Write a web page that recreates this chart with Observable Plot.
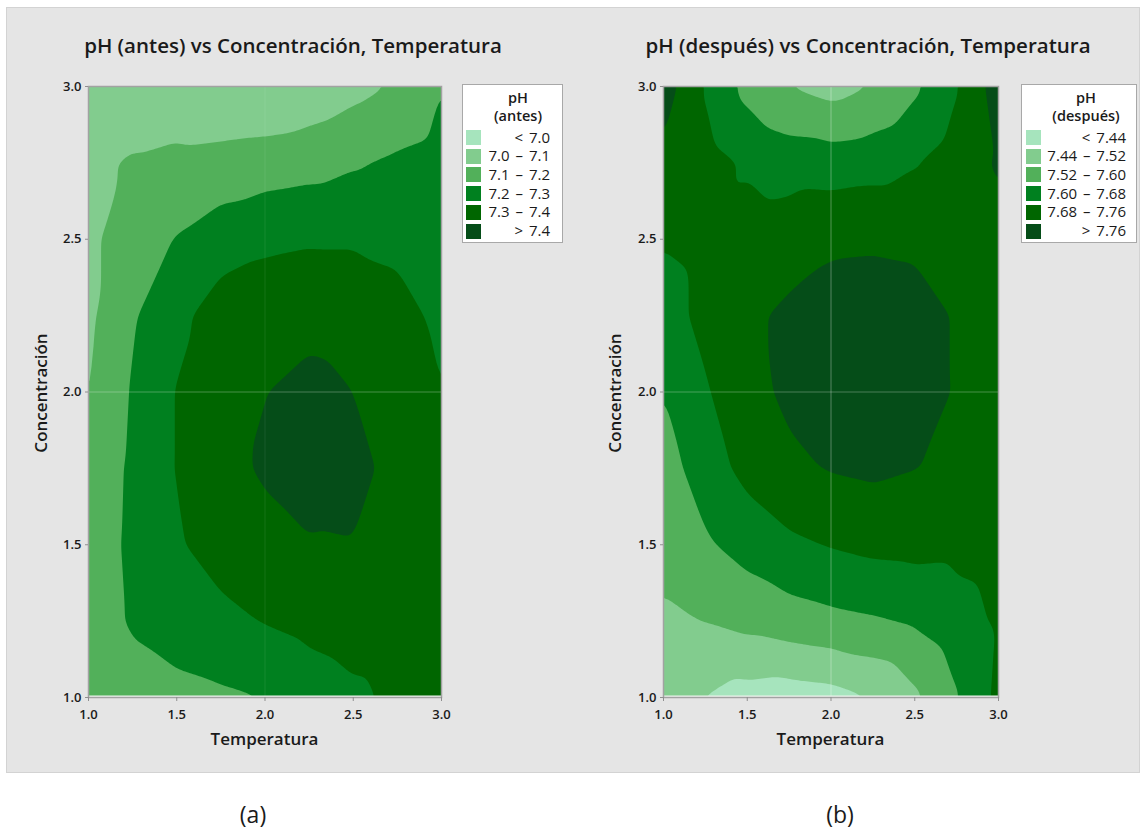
<!DOCTYPE html>
<html>
<head>
<meta charset="utf-8">
<script src="https://cdn.jsdelivr.net/npm/d3@7"></script>
<script src="https://cdn.jsdelivr.net/npm/@observablehq/plot@0.6"></script>
<style>
  html, body { margin: 0; padding: 0; background: #ffffff; }
  #root { position: relative; width: 1146px; height: 836px; overflow: hidden; font-family: "Open Sans", "Noto Sans", sans-serif; color: #1a1a1a; }
  .panel { position: absolute; left: 6px; top: 7px; width: 1134px; height: 766px; box-sizing: border-box; background: #e5e5e5; border: 1px solid #d3d3d3; }
  .plotwrap { position: absolute; top: 0; }
  .txt { position: absolute; white-space: nowrap; line-height: 1; }
  .title { font-size: 20.5px; font-weight: 600; transform: translateX(-50%); }
  .xlab { font-size: 17px; font-weight: 600; transform: translateX(-50%); }
  .ylab { font-size: 17px; font-weight: 600; transform: translate(-50%, -50%) rotate(-90deg); }
  .cap { font-size: 23px; font-weight: 400; transform: translateX(-50%); }
  .legend { position: absolute; box-sizing: border-box; background: #ffffff; border: 1px solid #a8a8a8; }
  .lt { font-size: 14.5px; font-weight: 600; transform: translateX(-50%); }
  .ll { font-size: 15px; font-weight: 400; transform: translateX(-100%); word-spacing: 2px; }
  .sw { position: absolute; width: 15px; height: 15px; }
</style>
</head>
<body>
<div id="root"></div>
<script>
// ---------- data ----------
const temperatura = [1.0, 1.25, 1.5, 1.75, 2.0, 2.25, 2.5, 2.75, 3.0];
const concentracion = [1.0, 1.25, 1.5, 1.75, 2.0, 2.25, 2.5, 2.75, 3.0];

// pH (antes): rows = concentracion (1.0 -> 3.0), columns = temperatura (1.0 -> 3.0)
const phAntes = [
  [7.120, 7.150, 7.170, 7.185, 7.200, 7.245, 7.280, 7.320, 7.340],
  [7.130, 7.215, 7.250, 7.275, 7.305, 7.330, 7.350, 7.350, 7.340],
  [7.130, 7.225, 7.290, 7.340, 7.370, 7.395, 7.398, 7.370, 7.340],
  [7.120, 7.220, 7.305, 7.370, 7.412, 7.435, 7.420, 7.380, 7.330],
  [7.092, 7.210, 7.305, 7.370, 7.398, 7.425, 7.400, 7.360, 7.300],
  [7.080, 7.190, 7.270, 7.353, 7.360, 7.375, 7.365, 7.330, 7.280],
  [7.080, 7.150, 7.205, 7.250, 7.280, 7.290, 7.290, 7.280, 7.270],
  [7.080, 7.110, 7.130, 7.141, 7.152, 7.165, 7.190, 7.217, 7.240],
  [7.060, 7.040, 7.020, 6.995, 7.001, 7.030, 7.070, 7.110, 7.200]
];

// pH (después)
const phDespues = [
  [7.455, 7.438, 7.410, 7.400, 7.410, 7.441, 7.505, 7.595, 7.700],
  [7.510, 7.522, 7.545, 7.565, 7.580, 7.592, 7.610, 7.650, 7.690],
  [7.540, 7.590, 7.630, 7.665, 7.685, 7.700, 7.705, 7.700, 7.710],
  [7.565, 7.640, 7.705, 7.745, 7.765, 7.775, 7.762, 7.745, 7.720],
  [7.600, 7.672, 7.735, 7.775, 7.795, 7.800, 7.790, 7.755, 7.725],
  [7.650, 7.700, 7.745, 7.775, 7.785, 7.790, 7.785, 7.755, 7.730],
  [7.685, 7.700, 7.715, 7.725, 7.750, 7.752, 7.748, 7.730, 7.740],
  [7.745, 7.710, 7.670, 7.645, 7.640, 7.650, 7.675, 7.720, 7.770],
  [7.800, 7.675, 7.575, 7.518, 7.490, 7.522, 7.585, 7.675, 7.800]
];

const ejeTicks = [1.0, 1.5, 2.0, 2.5, 3.0];
const umbralesAntes = [7.0, 7.1, 7.2, 7.3, 7.4];
const umbralesDespues = [7.44, 7.52, 7.60, 7.68, 7.76];
const colores = ["#a6e4bd", "#82cc8e", "#52b05a", "#00801f", "#006600", "#054d18"];
const etiquetasAntes = ["< 7.0", "7.0 – 7.1", "7.1 – 7.2", "7.2 – 7.3", "7.3 – 7.4", "> 7.4"];
const etiquetasDespues = ["< 7.44", "7.44 – 7.52", "7.52 – 7.60", "7.60 – 7.68", "7.68 – 7.76", "> 7.76"];
const titulos = ["pH (antes) vs Concentración, Temperatura", "pH (después) vs Concentración, Temperatura"];
const leyendaTitulos = [["pH", "(antes)"], ["pH", "(después)"]];
const ejeX = "Temperatura";
const ejeY = "Concentración";
const pies = ["(a)", "(b)"];

// ---------- drawing ----------
const root = document.getElementById("root");
const panel = document.createElement("div");
panel.className = "panel";
root.appendChild(panel);

function addText(cls, text, left, top) {
  const d = document.createElement("div");
  d.className = "txt " + cls;
  d.textContent = text;
  d.style.left = left + "px";
  d.style.top = top + "px";
  root.appendChild(d);
  return d;
}

function chart(grid, thresholds, cfg) {
  const pts = [];
  concentracion.forEach((c, i) => temperatura.forEach((t, j) => pts.push({t, c, v: grid[i][j]})));
  const lowest = thresholds[0] - 1;
  const fmt = d3.format(".1f");
  const svg = Plot.plot({
    width: cfg.width,
    height: 760,
    marginLeft: 88,
    marginRight: cfg.marginRight,
    marginTop: 86,
    marginBottom: 63,
    x: {domain: [1, 3]},
    y: {domain: [1, 3]},
    color: {type: "threshold", domain: thresholds, range: colores},
    style: {background: "transparent", fontFamily: "Open Sans, sans-serif", fontSize: "13px", color: "#1a1a1a"},
    marks: [
      Plot.contour(pts, {x: "t", y: "c", fill: "v", interpolate: "barycentric", thresholds: [lowest, ...thresholds], blur: 2}),
      Plot.ruleY([2], {stroke: "#ffffff", strokeOpacity: 0.28}),
      Plot.ruleX([2], {stroke: "#ffffff", strokeOpacity: cfg.vOpacity}),
      Plot.ruleY([1], {stroke: "#eef3ee", strokeWidth: 2, dy: -1}),
      Plot.frame({stroke: "#a2a2a2", strokeWidth: 1.5}),
      Plot.axisX(ejeTicks, {tickFormat: fmt, tickSize: 4, tickPadding: 8, stroke: "#8f8f8f", fill: "#1a1a1a", fontWeight: 600, fontSize: 13, label: null}),
      Plot.axisY(ejeTicks, {tickFormat: fmt, tickSize: 3, tickPadding: 4, stroke: "#8f8f8f", fill: "#1a1a1a", fontWeight: 600, fontSize: 13, label: null})
    ]
  });
  const wrap = document.createElement("div");
  wrap.className = "plotwrap";
  wrap.style.left = cfg.left + "px";
  wrap.appendChild(svg);
  root.appendChild(wrap);
}

function legend(box, titleLines, labels) {
  const lg = document.createElement("div");
  lg.className = "legend";
  lg.style.left = box.left + "px";
  lg.style.top = box.top + "px";
  lg.style.width = box.width + "px";
  lg.style.height = box.height + "px";
  root.appendChild(lg);
  addText("lt", titleLines[0], box.cx, 91);
  addText("lt", titleLines[1], box.cx, 109);
  labels.forEach((lab, i) => {
    const y = 130 + i * 18.7;
    const s = document.createElement("div");
    s.className = "sw";
    s.style.left = box.swx + "px";
    s.style.top = y + "px";
    s.style.background = colores[i];
    root.appendChild(s);
    addText("ll", lab, box.rx, y - 0.5);
  });
}

chart(phAntes, umbralesAntes, {left: 0, width: 570, marginRight: 129, vOpacity: 0.08});
chart(phDespues, umbralesDespues, {left: 575, width: 571, marginRight: 148, vOpacity: 0.32});

addText("title", titulos[0], 293, 35);
addText("title", titulos[1], 868, 35);
addText("xlab", ejeX, 264.5, 730);
addText("xlab", ejeX, 830.5, 730);
addText("ylab", ejeY, 40, 393);
addText("ylab", ejeY, 614, 393);
addText("cap", pies[0], 253, 803);
addText("cap", pies[1], 840, 803);

legend({left: 462, top: 84, width: 101, height: 159, cx: 518, swx: 466, rx: 550}, leyendaTitulos[0], etiquetasAntes);
legend({left: 1021, top: 84, width: 116, height: 159, cx: 1086, swx: 1026, rx: 1126}, leyendaTitulos[1], etiquetasDespues);
</script>
</body>
</html>
